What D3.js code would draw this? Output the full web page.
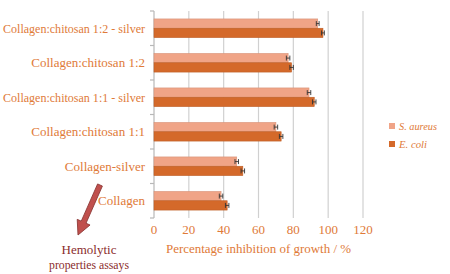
<!DOCTYPE html>
<html>
<head>
<meta charset="utf-8">
<script src="https://cdn.jsdelivr.net/npm/d3@7"></script>
<style>
  body { margin: 0; background: #fff; }
  svg { display: block; }
  svg text { font-family: "Liberation Serif", "Times New Roman", "DejaVu Serif", serif; }
</style>
</head>
<body>
<div id="chart"></div>
<script>
const categories = [
  "Collagen:chitosan 1:2 - silver",
  "Collagen:chitosan 1:2",
  "Collagen:chitosan 1:1 - silver",
  "Collagen:chitosan 1:1",
  "Collagen-silver",
  "Collagen"
];
const seriesNames = ["S. aureus", "E. coli"];
const aureusValues = [94, 77, 89, 70, 47.5, 38.5];
const coliValues = [97, 79, 92, 73, 51, 42];
const aureusErrors = [0.8, 1, 1, 1, 1, 1];
const coliErrors = [0.8, 1, 1, 1, 1, 1];
const xTicks = [0, 20, 40, 60, 80, 100, 120];

const W = 450, H = 274;
const margin = { top: 11, left: 154, right: 87, bottom: 56 };
const width = W - margin.left - margin.right;
const height = H - margin.top - margin.bottom;

const textColor = "#E07A38";
const colors = ["#F0A487", "#D4692A"];

const svg = d3.select("#chart").append("svg")
  .attr("width", W).attr("height", H);

const g = svg.append("g").attr("transform", `translate(${margin.left},${margin.top})`);

const x = d3.scaleLinear().domain([0, 120]).range([0, width]);
const y = d3.scaleBand().domain(categories).range([0, height]).paddingInner(0.46).paddingOuter(0.23);
const ySub = d3.scaleBand().domain(seriesNames).range([0, y.bandwidth()]);

// fit a text into a target width (serif fonts may be missing)
function fit(sel, maxW) {
  sel.each(function () {
    const w = this.getComputedTextLength();
    if (w > maxW) d3.select(this).attr("textLength", maxW).attr("lengthAdjust", "spacingAndGlyphs");
  });
}

// grid lines
g.selectAll(".grid").data(xTicks.slice(1)).enter().append("line")
  .attr("x1", d => x(d)).attr("x2", d => x(d))
  .attr("y1", 0).attr("y2", height)
  .attr("stroke", "#D0D0D0").attr("stroke-width", 1.2);

// x tick labels
g.selectAll(".xt").data(xTicks).enter().append("text")
  .attr("x", d => x(d)).attr("y", height + 16)
  .attr("text-anchor", "middle")
  .attr("fill", textColor).attr("font-size", 13)
  .text(d => d);

// y axis line and ticks
const bandStep = height / categories.length;
g.append("line").attr("x1", 0).attr("x2", 0).attr("y1", 0).attr("y2", height)
  .attr("stroke", "#B8B8B8").attr("stroke-width", 1.2);
g.selectAll(".ytick").data(d3.range(categories.length + 1)).enter().append("line")
  .attr("x1", -4).attr("x2", 0)
  .attr("y1", d => d * bandStep).attr("y2", d => d * bandStep)
  .attr("stroke", "#B8B8B8").attr("stroke-width", 1.2);

// category labels
g.selectAll(".ylab").data(categories).enter().append("text")
  .attr("x", -9).attr("y", d => y(d) + y.bandwidth() / 2 + 4.5)
  .attr("text-anchor", "end")
  .attr("fill", textColor).attr("font-size", 13)
  .text(d => d)
  .call(fit, 142);

const series = [
  { name: seriesNames[0], values: aureusValues, errors: aureusErrors, color: colors[0] },
  { name: seriesNames[1], values: coliValues, errors: coliErrors, color: colors[1] }
];

series.forEach(s => {
  const rows = categories.map((c, i) => ({ c, v: s.values[i], e: s.errors[i] }));
  g.selectAll(null).data(rows).enter().append("rect")
    .attr("x", 0)
    .attr("y", d => y(d.c) + ySub(s.name))
    .attr("width", d => x(d.v))
    .attr("height", ySub.bandwidth())
    .attr("fill", s.color)
    .attr("stroke", d3.color(s.color).darker(0.3))
    .attr("stroke-width", 0.6);

  const eb = g.selectAll(null).data(rows).enter().append("g")
    .attr("stroke", "#333").attr("stroke-width", 0.9);
  const cy = d => y(d.c) + ySub(s.name) + ySub.bandwidth() / 2;
  eb.append("line")
    .attr("x1", d => x(d.v - d.e)).attr("x2", d => x(d.v + d.e))
    .attr("y1", cy).attr("y2", cy);
  eb.append("line")
    .attr("x1", d => x(d.v - d.e)).attr("x2", d => x(d.v - d.e))
    .attr("y1", d => cy(d) - 2.5).attr("y2", d => cy(d) + 2.5);
  eb.append("line")
    .attr("x1", d => x(d.v + d.e)).attr("x2", d => x(d.v + d.e))
    .attr("y1", d => cy(d) - 2.5).attr("y2", d => cy(d) + 2.5);
});

// x axis title
svg.append("text")
  .attr("x", margin.left + width / 2).attr("y", 253)
  .attr("text-anchor", "middle")
  .attr("fill", textColor).attr("font-size", 13.5)
  .text("Percentage inhibition of growth / %")
  .call(fit, 185);

// legend
const legend = svg.append("g").attr("transform", "translate(389,123)");
series.forEach((s, i) => {
  const row = legend.append("g").attr("transform", `translate(0,${i * 18})`);
  row.append("rect").attr("x", 0).attr("y", 0).attr("width", 6).attr("height", 6)
    .attr("fill", s.color);
  row.append("text").attr("x", 10).attr("y", 7)
    .attr("fill", textColor).attr("font-size", 11).attr("font-style", "italic")
    .text(s.name)
    .call(fit, i === 0 ? 38 : 28);
});

// arrow
const arrowColor = "#C0504D";
const ax0 = 100, ay0 = 185, ax1 = 78, ay1 = 235;
const ang = Math.atan2(ay1 - ay0, ax1 - ax0);
const len = Math.hypot(ax1 - ax0, ay1 - ay0);
const shaft = 2.6, head = 7, headLen = 14;
const pts = [
  [0, -shaft], [len - headLen, -shaft], [len - headLen, -head], [len, 0],
  [len - headLen, head], [len - headLen, shaft], [0, shaft]
];
svg.append("polygon")
  .attr("points", pts.map(p => p.join(",")).join(" "))
  .attr("transform", `translate(${ax0},${ay0}) rotate(${ang * 180 / Math.PI})`)
  .attr("fill", arrowColor).attr("stroke", "#8C3836").attr("stroke-width", 0.8);

svg.append("text").attr("x", 89).attr("y", 254)
  .attr("text-anchor", "middle").attr("fill", "#8B2C2C").attr("font-size", 13)
  .text("Hemolytic")
  .call(fit, 56);
svg.append("text").attr("x", 89).attr("y", 269)
  .attr("text-anchor", "middle").attr("fill", "#8B2C2C").attr("font-size", 13)
  .text("properties assays")
  .call(fit, 80);
</script>
</body>
</html>
